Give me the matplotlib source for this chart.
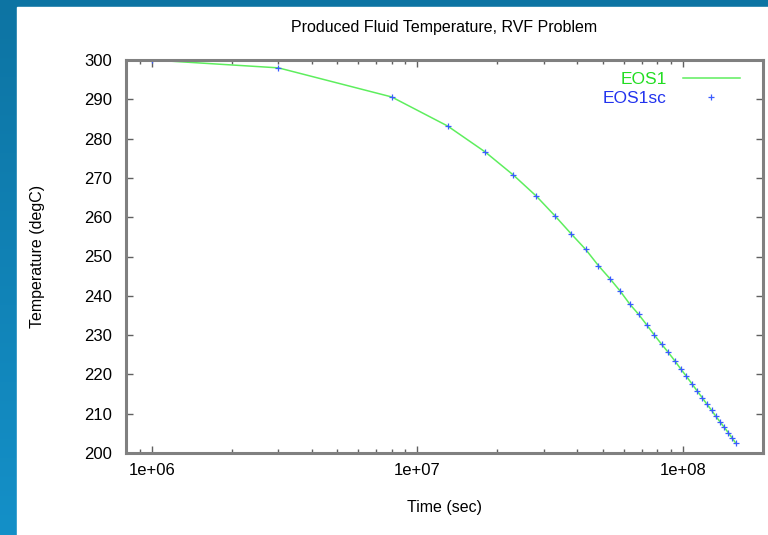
import numpy as np
import matplotlib
matplotlib.use("Agg")
import matplotlib.pyplot as plt
from matplotlib.patches import Rectangle
from matplotlib.ticker import FixedLocator, FuncFormatter, LogLocator, NullFormatter

plt.rcParams['font.family'] = ['Liberation Sans', 'DejaVu Sans']

# time (sec) and produced fluid temperature (degC)
time_sec = [8e5, 1e6, 3e6, 8e6, 1.3e7, 1.8e7, 2.3e7, 2.8e7, 3.3e7, 3.8e7, 4.3e7,
            4.8e7, 5.3e7, 5.8e7, 6.3e7, 6.8e7, 7.3e7, 7.8e7, 8.3e7, 8.8e7, 9.3e7,
            9.8e7, 1.03e8, 1.08e8, 1.13e8, 1.18e8, 1.23e8, 1.28e8, 1.33e8, 1.38e8,
            1.43e8, 1.48e8, 1.53e8, 1.58e8]
temp_eos1 = [300.0, 300.0, 298.0, 290.6, 283.2, 276.6, 270.7, 265.4, 260.3, 255.7, 251.8,
             247.7, 244.4, 241.2, 237.9, 235.3, 232.6, 230.0, 227.7, 225.6, 223.5,
             221.4, 219.5, 217.6, 215.8, 214.1, 212.4, 210.9, 209.3, 207.9,
             206.5, 205.2, 203.8, 202.5]
temp_eos1sc = temp_eos1

y_ticks = [200, 210, 220, 230, 240, 250, 260, 270, 280, 290, 300]
x_ticks = [1e6, 1e7, 1e8]

fig = plt.figure(figsize=(7.68, 5.35), dpi=100)

# blue gradient background + white panel
bg = fig.add_axes([0, 0, 1, 1], zorder=-2)
grad = np.linspace(0, 1, 256).reshape(-1, 1)
top_c = np.array([0x0d, 0x74, 0xa3]) / 255
bot_c = np.array([0x14, 0x90, 0xc8]) / 255
img = top_c + grad[..., None] * (bot_c - top_c)
bg.imshow(img, aspect='auto', extent=[0, 1, 0, 1])
bg.add_patch(Rectangle((17 / 768, 0), 1, 1 - 7 / 535, color='white'))
bg.set_xlim(0, 1)
bg.set_ylim(0, 1)
bg.axis('off')

ax = fig.add_axes([126 / 768, 1 - 453 / 535, 637 / 768, 393 / 535])
ax.set_xscale('log')
ax.plot(time_sec, temp_eos1, color='#5eee5e', lw=1.1, label='EOS1')
ax.plot(time_sec, temp_eos1sc, ls='none', marker='+', ms=5, mew=0.9,
        color='#3a5cff', label='EOS1sc')

ax.set_xlim(8e5, 2e8)
ax.set_ylim(200, 300)
ax.yaxis.set_major_locator(FixedLocator(y_ticks))
ax.xaxis.set_major_locator(FixedLocator(x_ticks))
ax.xaxis.set_major_formatter(FuncFormatter(lambda v, p: f"{v:.0e}"))
ax.xaxis.set_minor_locator(LogLocator(base=10, subs=np.arange(2, 10)))
ax.xaxis.set_minor_formatter(NullFormatter())

for s in ax.spines.values():
    s.set_color('#808080')
    s.set_linewidth(2.2)

ax.tick_params(axis='both', which='major', direction='in', length=5, width=1,
               color='#606060', top=True, right=True, labelsize=12)
ax.tick_params(axis='both', which='minor', direction='in', length=3, width=1,
               color='#606060', top=True, right=True)
ax.tick_params(axis='y', pad=10)
ax.tick_params(axis='x', pad=7)

ax.set_title('Produced Fluid Temperature, RVF Problem', fontsize=11.5, pad=20)
ax.set_xlabel('Time (sec)', fontsize=11.5)
ax.set_ylabel('Temperature (degC)', fontsize=11.5)
ax.xaxis.set_label_coords(0.5, -0.12)
ax.yaxis.set_label_coords(-0.127, 0.5)

leg = ax.legend(loc='upper right', bbox_to_anchor=(1 - 11 / 637, 1), frameon=False,
                markerfirst=False, fontsize=12.5, handlelength=3.3, handletextpad=0.9,
                borderaxespad=0.3, labelspacing=0.2)
leg.get_texts()[0].set_color('#22dd22')
leg.get_texts()[1].set_color('#2233ee')
for t in leg.get_texts():
    t.set_ha('right')

fig.savefig('out.png', dpi=100)
